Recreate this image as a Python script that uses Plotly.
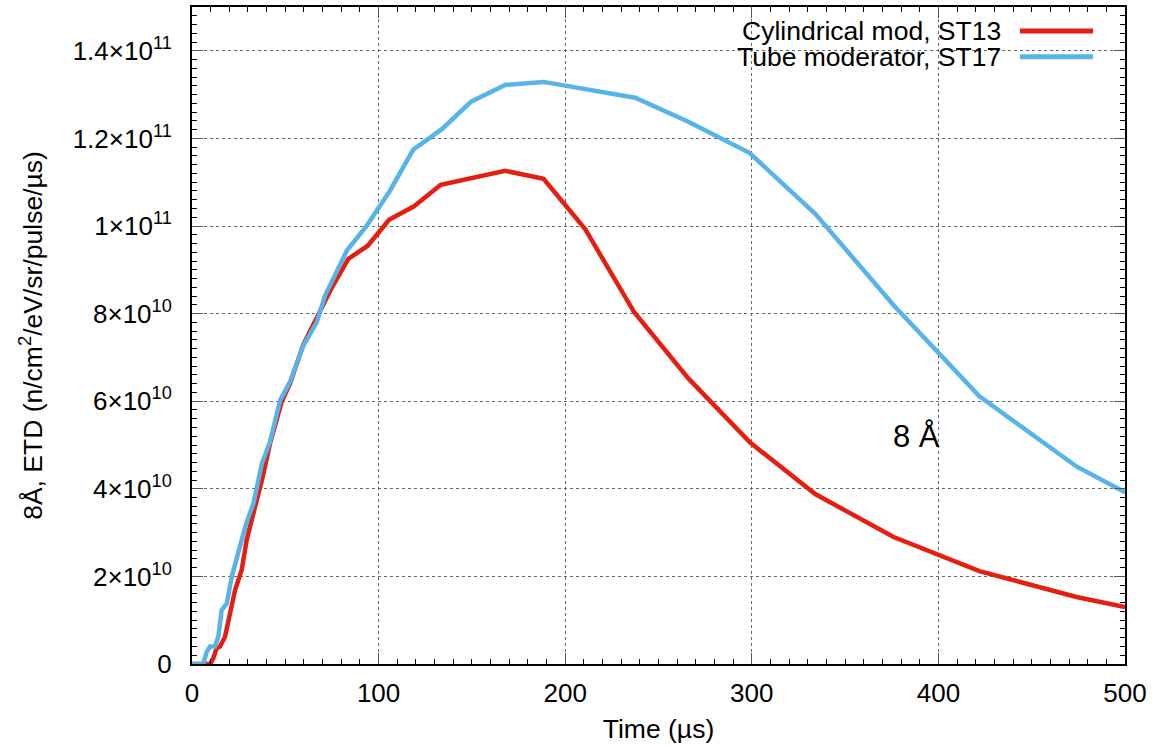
import plotly.graph_objects as go

# ---- data (y in units of 1e9) ----
t_st13 = [0, 9.7, 11.4, 13.2, 15.0, 17.7, 20.4, 23.1, 26.6, 29.3, 33.8, 37.5, 41.8, 48.0, 52.5,
          59.7, 66.8, 75.0, 83.8, 94.2, 105.6, 119.0, 133.3, 150.0, 167.8, 188.4, 210.7, 237.0,
          266.0, 299.0, 334.0, 376.0, 422.0, 474.0, 500.0]
y_st13 = [0, 0, 1.3, 3.6, 4.0, 6.2, 11.6, 16.9, 21.4, 28.3, 35.9, 42.0, 50.3, 59.8, 64.0,
          73.0, 79.0, 86.0, 92.5, 95.5, 101.4, 104.5, 109.4, 110.9, 112.6, 110.8, 99.3, 80.3,
          65.2, 50.6, 38.8, 29.0, 21.2, 15.3, 13.0]

t_st17 = [0, 6.0, 7.9, 9.7, 12.3, 14.1, 15.9, 18.6, 21.3, 23.1, 26.6, 29.3, 32.9, 37.4, 41.8,
          47.2, 52.5, 59.7, 66.8, 71.3, 83.0, 93.7, 106.0, 118.5, 133.9, 149.6, 167.8, 188.4,
          211.0, 237.5, 266.0, 298.7, 334.0, 376.0, 422.0, 474.0, 500.0]
y_st17 = [0, 0, 2.8, 4.0, 4.0, 6.2, 12.3, 13.8, 19.9, 23.0, 28.3, 32.4, 36.6, 45.7, 50.7,
          60.2, 64.4, 72.7, 78.0, 84.1, 94.4, 100.1, 108.0, 117.4, 122.1, 128.4, 132.2, 132.9,
          131.3, 129.3, 123.8, 116.7, 102.8, 81.9, 61.1, 45.1, 39.2]

series_names = ["Cylindrical mod, ST13", "Tube moderator, ST17"]
series_colors = ["#e51e10", "#56b4e9"]

x_tickvals = [0, 100, 200, 300, 400, 500]
y_tickvals = [0, 2e10, 4e10, 6e10, 8e10, 1e11, 1.2e11, 1.4e11]
y_ticktext = ["0", "2×10<sup>10</sup>", "4×10<sup>10</sup>", "6×10<sup>10</sup>",
              "8×10<sup>10</sup>", "1×10<sup>11</sup>", "1.2×10<sup>11</sup>", "1.4×10<sup>11</sup>"]

FONT = "Liberation Sans, Arial, Helvetica, sans-serif"
TICK_SIZE = 26
TEXT_SIZE = 26.5

fig = go.Figure()
for t, y, name, col in [(t_st13, y_st13, series_names[0], series_colors[0]),
                        (t_st17, y_st17, series_names[1], series_colors[1])]:
    fig.add_trace(go.Scatter(x=t, y=[v * 1e9 for v in y], mode="lines", name=name,
                             line=dict(color=col, width=4.5), showlegend=False))

axis_common = dict(
    showline=True, linecolor="black", linewidth=2, mirror="allticks",
    ticks="inside", ticklen=11, tickwidth=1, tickcolor="#555",
    showgrid=True, gridcolor="#666", griddash="dot", gridwidth=1,
    zeroline=False, tickfont=dict(family=FONT, size=TICK_SIZE, color="black"),
)

fig.update_xaxes(range=[0, 500], tickvals=x_tickvals,
                 minor=dict(dtick=10, ticks="inside", ticklen=5, tickcolor="black", showgrid=False),
                 title=dict(text="Time (µs)", font=dict(family=FONT, size=TEXT_SIZE, color="black"), standoff=12),
                 ticklabelstandoff=5,
                 **axis_common)
fig.update_yaxes(range=[0, 1.5e11], tickvals=y_tickvals, ticktext=y_ticktext,
                 minor=dict(dtick=2e9, ticks="inside", ticklen=5, tickcolor="black", showgrid=False),
                 title=dict(text="8Å, ETD (n/cm<sup>2</sup>/eV/sr/pulse/µs)",
                            font=dict(family=FONT, size=TEXT_SIZE, color="black"), standoff=22),
                 ticklabelstandoff=13,
                 **axis_common)

# white box behind the legend (masks grid), custom gnuplot-style legend: text left of line sample
fig.add_shape(type="rect", xref="paper", yref="paper", x0=0.52, x1=1.0, y0=0.897, y1=1.0,
              fillcolor="white", line=dict(width=0), layer="between")
legend_rows_y = [0.9636, 0.9241]
for name, col, yy in zip(series_names, series_colors, legend_rows_y):
    fig.add_annotation(xref="paper", yref="paper", x=0.8692, y=yy, text=name, showarrow=False,
                       xanchor="right", yanchor="middle",
                       font=dict(family=FONT, size=TEXT_SIZE, color="black"))
    fig.add_shape(type="line", xref="paper", yref="paper", x0=0.8875, x1=0.9657, y0=yy, y1=yy,
                  line=dict(color=col, width=5), layer="above")

fig.add_annotation(x=388, y=52e9, text="8 Å", showarrow=False,
                   font=dict(family=FONT, size=31, color="black"))

fig.update_layout(width=1155, height=748, margin=dict(l=192, r=30, t=5, b=84),
                  plot_bgcolor="white", paper_bgcolor="white",
                  font=dict(family=FONT, size=TICK_SIZE, color="black"))

fig.write_html("out.html")
